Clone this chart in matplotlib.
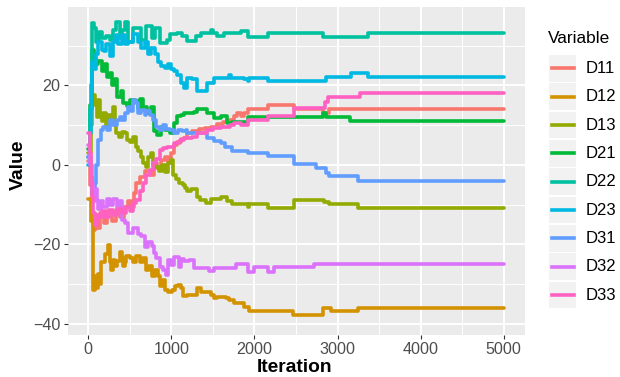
import matplotlib
matplotlib.use("Agg")
import matplotlib.pyplot as plt
from matplotlib.patches import Rectangle
from matplotlib.lines import Line2D

plt.rcParams['font.family'] = ['Liberation Sans', 'DejaVu Sans']

W, H = 620, 377

# traces as (iteration, value) pairs, drawn as steps
d11 = [(0, 1), (20, -5), (40, -12), (64, -16.5), (85, -13), (110, -16), (140, -12),
       (185, -14.5), (230, -11.5), (280, -14), (330, -11.3), (386, -13), (430, -10.6),
       (480, -9), (520, -10.5), (547, -7), (580, -4.5), (628, -3), (680, -1.5),
       (749, -2.5), (790, 0.5), (830, -0.8), (870, 1.3), (920, 2), (960, 0.8),
       (990, 3), (1031, 5), (1070, 5.8), (1111, 6.5), (1150, 6.8), (1192, 8),
       (1250, 8.5), (1330, 9.0), (1400, 9.3), (1473, 9.6), (1554, 10.3), (1620, 10.8),
       (1675, 11.3), (1755, 12.2), (1790, 13), (1836, 12.2), (1877, 13), (1917, 14.1),
       (2158, 15.1), (2480, 14.1), (2822, 13), (2903, 14.1), (5000, 14.1)]
d12 = [(0, -8.5), (30, -14), (56, -31.5), (80, -28), (100, -31), (117, -27.5),
       (140, -30), (157, -24.5), (197, -22.3), (238, -20.2), (260, -24.5), (278, -26.5),
       (300, -24), (318, -25.5), (350, -24.2), (378, -21.9), (400, -23.5), (419, -25.5),
       (440, -24.5), (459, -22.8), (500, -23.5), (540, -24.5), (580, -23), (620, -24.5),
       (660, -23.5), (700, -26.5), (730, -25.5), (761, -28), (801, -26.5), (840, -28),
       (862, -30.5), (900, -29), (922, -31.5), (960, -32), (1002, -31.5), (1040, -30.5),
       (1083, -30.2), (1110, -31), (1144, -33), (1192, -32.7), (1313, -31), (1353, -31.9),
       (1473, -32.7), (1514, -33.5), (1554, -33.2), (1655, -33.5), (1695, -34),
       (1755, -34.8), (1876, -35.7), (1936, -36.7), (2460, -37.8), (2822, -35.9),
       (2923, -36.8), (3245, -35.9), (5000, -35.9)]
d13 = [(0, 3), (30, 10), (50, 17.5), (77, 15), (100, 12), (120, 16.4), (137, 12),
       (160, 11), (180, 13), (217, 9.6), (250, 12.5), (280, 11.5), (298, 14.6),
       (320, 10), (338, 8), (370, 7), (400, 8.3), (439, 8), (470, 6.3), (499, 5.8),
       (540, 7), (570, 4.5), (600, 3.5), (630, 2), (660, 0.5), (690, -0.5), (720, 2),
       (750, 3), (781, 0), (820, -0.5), (850, -1.5), (882, 0), (920, -1.8), (962, 0.5),
       (1000, 1.3), (1023, -2.5), (1050, -3.5), (1091, -4.5), (1144, -5), (1170, -5.8),
       (1192, -6.5), (1240, -6), (1313, -8), (1350, -8.8), (1413, -9.6), (1473, -8.5),
       (1594, -8), (1675, -9.2), (1735, -9.8), (1917, -10.6), (1937, -9.8),
       (2158, -10.9), (2480, -8.8), (2842, -9.3), (2903, -9.8), (3245, -10.9),
       (5000, -10.9)]
d21 = [(0, 4), (25, 15), (50, 29), (64, 27), (90, 25.3), (120, 26.2), (160, 23.7),
       (200, 25.5), (230, 22), (266, 23), (290, 20.2), (320, 21.5), (350, 17),
       (390, 18.5), (420, 15.5), (467, 14.8), (500, 16.4), (560, 16), (600, 14.4),
       (628, 16.5), (660, 14.6), (709, 13), (750, 14.5), (789, 8.5), (830, 7.5),
       (870, 9.5), (920, 8.7), (980, 8), (1031, 10.6), (1071, 12.2), (1111, 12.6),
       (1151, 13), (1272, 13.4), (1313, 14), (1433, 13), (1514, 11.8), (1594, 12.2),
       (1675, 10.5), (1735, 10.9), (1917, 12), (2822, 13), (2862, 12), (3144, 11.1),
       (5000, 11.1)]
d22 = [(0, 2), (20, 14), (40, 30), (48, 35.8), (70, 34.5), (97, 31), (130, 33.5),
       (170, 32), (217, 32.5), (260, 31.5), (300, 34), (330, 36), (378, 32), (410, 34),
       (439, 36), (479, 31), (540, 34.5), (640, 31.5), (700, 35), (761, 32),
       (801, 34.5), (862, 30.7), (942, 31.3), (982, 33), (1063, 33.3), (1123, 32.5),
       (1192, 31.2), (1292, 32.4), (1353, 33.2), (1473, 34), (1500, 33.2), (1554, 32.4),
       (1634, 33.2), (1836, 33.6), (1917, 32.3), (2158, 33.2), (2822, 32.3),
       (3366, 33.2), (5000, 33.2)]
d23 = [(0, 0), (20, 8), (36, 20), (50, 26), (70, 24), (97, 27.8), (117, 31),
       (160, 29), (190, 28.7), (217, 30.3), (260, 27.4), (300, 31), (330, 32.8),
       (360, 30.3), (400, 32.8), (440, 30.5), (480, 31), (540, 33), (600, 31),
       (640, 29.5), (680, 31), (720, 27.8), (760, 29.5), (800, 27.8), (840, 26),
       (880, 25), (920, 24.5), (960, 25.5), (990, 24), (1031, 23.5), (1071, 22.7),
       (1110, 20.5), (1151, 19.4), (1192, 21.9), (1252, 21.5), (1313, 18.5),
       (1433, 20.5), (1514, 21.9), (1695, 22.7), (1715, 21.9), (1876, 21.5),
       (1917, 21), (1937, 21.8), (2158, 21.2), (2862, 22), (3164, 23.1), (3366, 22),
       (5000, 22)]
d31 = [(0, 2), (30, -3), (50, -7), (77, -4.5), (97, 0), (117, 6.3), (150, 8.8),
       (177, 9.6), (220, 8.8), (258, 11.3), (300, 10), (340, 11.3), (378, 12),
       (410, 11.3), (439, 13), (480, 14.6), (520, 13.5), (540, 16.4), (570, 15.6),
       (600, 13), (640, 13.9), (680, 12.5), (700, 13.5), (740, 12.5), (781, 11.3),
       (821, 9.6), (860, 8.8), (902, 10), (940, 9), (982, 8.8), (1031, 8), (1083, 8.8),
       (1130, 8.5), (1172, 8.8), (1192, 8), (1433, 6.7), (1514, 5.9), (1594, 5.5),
       (1650, 4.6), (1735, 3.4), (1917, 3.1), (2158, 2.2), (2480, 0.2), (2742, -0.8),
       (2862, -2.1), (2903, -2.9), (3245, -3.95), (5000, -3.95)]
d32 = [(0, 5), (20, 0), (40, -4.5), (60, -9), (80, -6), (100, -8.8), (120, -11),
       (150, -9), (180, -10.6), (220, -8.5), (260, -10), (300, -8.5), (340, -10.6),
       (378, -9), (410, -13.9), (439, -14.6), (480, -17.1), (540, -16), (600, -17.5),
       (640, -18), (680, -20.6), (720, -19.4), (761, -20.5), (790, -22.2), (821, -23.5),
       (860, -25.7), (902, -26.5), (935, -27.7), (962, -24), (1000, -25.2),
       (1031, -23.1), (1091, -25.7), (1120, -23.6), (1151, -24.2), (1212, -24),
       (1272, -26), (1453, -26.6), (1514, -26), (1775, -24.9), (1917, -26.9),
       (1997, -25.8), (2158, -26.9), (2238, -25.8), (2721, -24.9), (5000, -24.9)]
d33 = [(0, 8), (15, 3), (30, -3), (45, -8), (60, -12), (80, -15), (100, -12.5),
       (130, -13), (160, -11.5), (200, -13), (250, -11.3), (300, -12.5), (350, -11),
       (400, -12), (450, -10.6), (500, -11.5), (540, -9.5), (580, -8.8), (620, -6.5),
       (660, -4.5), (700, -2.5), (740, -1.3), (781, 0.5), (820, 1.5), (862, 3.8),
       (900, 4.2), (942, 4.5), (990, 4.6), (1030, 5.5), (1100, 6.3), (1151, 6.8),
       (1250, 7.1), (1313, 8), (1433, 8.8), (1500, 9.3), (1594, 9.6), (1700, 10),
       (1755, 10.5), (1836, 10.1), (1917, 11.2), (2158, 12.2), (2480, 14.3),
       (2822, 14.3), (2850, 15.7), (2883, 17.1), (3265, 18.1), (5000, 18.1)]

variables = ['D11', 'D12', 'D13', 'D21', 'D22', 'D23', 'D31', 'D32', 'D33']
traces = [d11, d12, d13, d21, d22, d23, d31, d32, d33]
colors = ['#F8766D', '#D39200', '#93AA00', '#00BA38', '#00C19F',
          '#00B9E3', '#619CFF', '#DB72FB', '#FF61C3']

x_major = [0, 1000, 2000, 3000, 4000, 5000]
x_minor = [500, 1500, 2500, 3500, 4500]
y_major = [-40, -20, 0, 20]
y_minor = [-30, -10, 10, 30]

fig = plt.figure(figsize=(W / 100, H / 100), dpi=100)
ax = fig.add_axes([67.5 / W, 1 - 335 / H, 457 / W, 328.3 / H])
ax.set_facecolor('#EBEBEB')

for name, tr, c in zip(variables, traces, colors):
    its = [p[0] for p in tr]
    vals = [p[1] for p in tr]
    ax.plot(its, vals, drawstyle='steps-post', color=c, lw=2.6, label=name,
            solid_joinstyle='round', solid_capstyle='round')

ax.set_xlim(-250, 5250)
ax.set_ylim(-42.8, 39.8)
ax.set_xticks(x_major)
ax.set_xticks(x_minor, minor=True)
ax.set_yticks(y_major)
ax.set_yticks(y_minor, minor=True)
ax.grid(which='major', color='white', lw=1.4)
ax.grid(which='minor', color='white', lw=0.7)
ax.set_axisbelow(True)
for s in ax.spines.values():
    s.set_visible(False)
ax.tick_params(which='major', length=3.2, width=0.8, color='#333333',
               labelcolor='#4D4D4D', labelsize=11.6, pad=2)
ax.tick_params(which='minor', length=0)

fig.text(18 / W, 1 - 165 / H, 'Value', rotation=90, ha='center', va='center',
         fontsize=13.9, fontweight='bold')
fig.text(295 / W, 1 - 367 / H, 'Iteration', ha='center', va='center',
         fontsize=13.9, fontweight='bold')

# legend, ggplot style
fig.text(548 / W, 1 - 38.5 / H, 'Variable', ha='left', va='center', fontsize=12.4)
for i, (name, c) in enumerate(zip(variables, colors)):
    cy = 68.3 + 28.35 * i
    fig.patches.append(Rectangle((549 / W, 1 - (cy + 13.3) / H), 27 / W, 26.6 / H,
                                 transform=fig.transFigure, facecolor='#F2F2F2',
                                 edgecolor='none'))
    fig.lines.append(Line2D([551.5 / W, 573.5 / W], [1 - cy / H, 1 - cy / H],
                            transform=fig.transFigure, color=c, lw=2.6))
    fig.text(586 / W, 1 - cy / H, name, ha='left', va='center', fontsize=12)

fig.savefig('out.png', dpi=100)
